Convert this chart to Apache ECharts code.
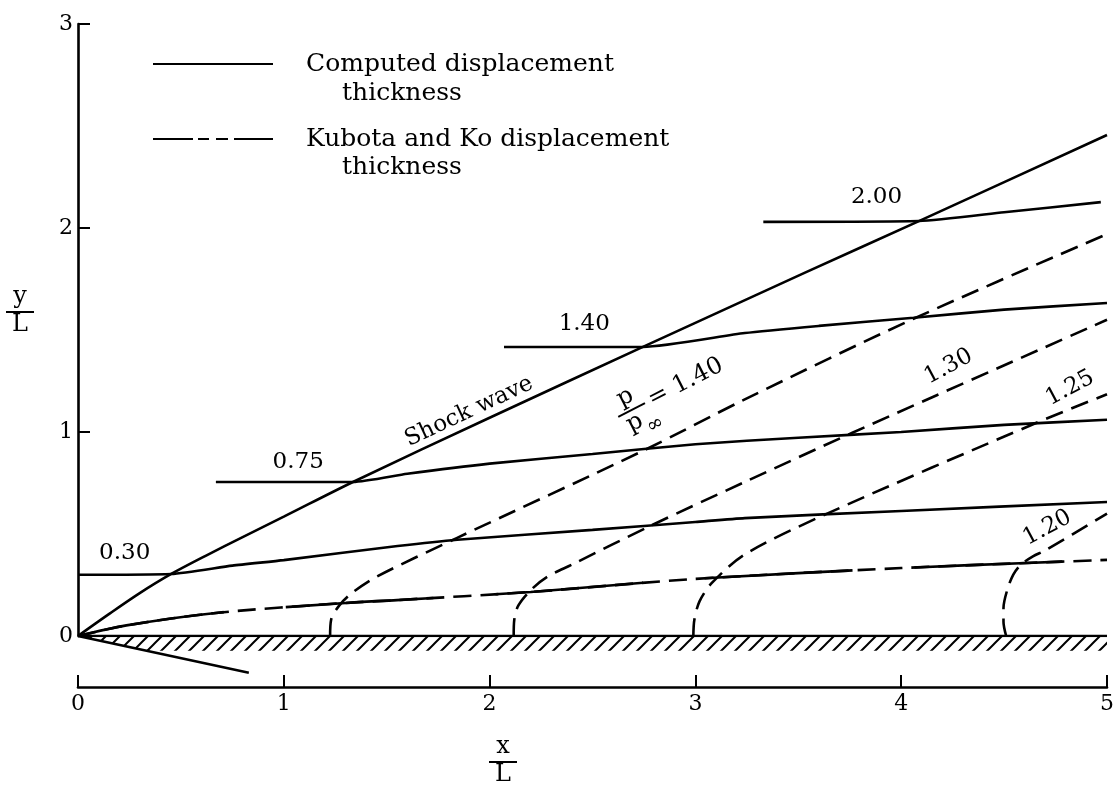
<!DOCTYPE html>
<html>
<head>
<meta charset="utf-8">
<title>Pressure field ahead of a wedge</title>
<script src="https://cdn.jsdelivr.net/npm/echarts/dist/echarts.min.js"></script>
<style>
  html, body { margin: 0; padding: 0; background: #fff; }
  #main { width: 1117px; height: 786px; }
</style>
</head>
<body>
<div id="main"></div>
<script>
// ---- values (x/L, y/L) ----
const X_TICKS = [0, 1, 2, 3, 4, 5];
const Y_TICKS = [0, 1, 2, 3];

const shockWave = [[0, 0], [0.15, 0.107], [0.3, 0.21], [0.453, 0.304], [0.62, 0.393], [0.8, 0.485], [1.0, 0.585],
  [1.336, 0.755], [2.0, 1.07], [2.745, 1.417], [3.53, 1.78], [4.086, 2.034], [5.0, 2.456]];

// computed isobars
const isobar030 = [[0, 0.30], [0.453, 0.304], [0.75, 0.345], [1.0, 0.372], [1.553, 0.441], [1.843, 0.472],
  [2.5, 0.52], [3.0, 0.559], [3.24, 0.578], [4.0, 0.613], [5.0, 0.657]];
const isobar075 = [[0.67, 0.755], [1.336, 0.755], [1.6, 0.795], [2.0, 0.845], [2.5, 0.892], [3.0, 0.94],
  [3.5, 0.972], [4.0, 1.0], [4.5, 1.035], [5.0, 1.06]];
const isobar140 = [[2.07, 1.417], [2.745, 1.417], [3.24, 1.485], [3.6, 1.52], [4.06, 1.56], [4.5, 1.60], [5.0, 1.632]];
const isobar200 = [[3.33, 2.03], [4.086, 2.034], [4.5, 2.077], [4.97, 2.127]];

// Kubota and Ko isobars
const kubota140 = [[1.225, 0], [1.23, 0.08], [1.27, 0.15], [1.33, 0.21], [1.45, 0.29], [1.84, 0.48],
  [2.75, 0.91], [3.24, 1.16], [4.06, 1.555], [5.0, 1.97]];
const kubota130 = [[2.117, 0], [2.12, 0.08], [2.14, 0.15], [2.2, 0.225], [2.28, 0.29], [2.4, 0.35],
  [2.79, 0.544], [3.24, 0.755], [3.76, 0.995], [5.0, 1.55]];
const kubota125 = [[2.99, 0], [2.995, 0.08], [3.02, 0.17], [3.08, 0.26], [3.24, 0.40], [3.64, 0.60],
  [4.655, 1.044], [5.0, 1.185]];
const kubota120 = [[4.51, 0], [4.497, 0.07], [4.497, 0.137], [4.515, 0.225], [4.544, 0.30], [4.58, 0.348],
  [4.64, 0.39], [4.70, 0.42], [5.0, 0.60]];

// displacement thickness (both methods coincide)
const displacementThickness = [[0, 0], [0.235, 0.052], [0.67, 0.113], [1.3, 0.162], [1.55, 0.176],
  [2.2, 0.216], [3.0, 0.28], [4.0, 0.333], [4.61, 0.358], [5.0, 0.373]];

// body: flat plate surface, wedge lower face, hatched wall band
const plateSurface = [[0, 0], [5, 0]];
const wedgeFace = [[0, 0], [0.83, -0.18]];
const wallBand = [[0, 0], [5, 0], [5, -0.072], [0.33, -0.072]];

// curve annotations: [text, x/L, y/L]
const isobarTags = [['0.30', 0.227, 0.407], ['0.75', 1.07, 0.853], ['1.40', 2.46, 1.53], ['2.00', 3.88, 2.15]];
const kubotaTags = [['1.30', 4.23, 1.32], ['1.25', 4.82, 1.215], ['1.20', 4.71, 0.53]];
const shockTag = ['Shock wave', 1.90, 1.10];
const ratioTag = ['1.40', 2.69, 1.108];

const LEGEND_NAMES = ['Computed displacement thickness', 'Kubota and Ko displacement thickness'];

// ---- styling ----
const FONT = '"DejaVu Serif", "Liberation Serif", serif';
const INK = '#000';
const LW = 2.6;
const DASH = [18, 9];
const kubotaAngle = 28;
const shockAngle = 25;

function hatchTile() {
  const c = document.createElement('canvas');
  c.width = 14; c.height = 14;
  const g = c.getContext('2d');
  g.strokeStyle = INK; g.lineWidth = 2;
  g.beginPath();
  g.moveTo(-2, 16); g.lineTo(16, -2);
  g.moveTo(-2, 2); g.lineTo(2, -2);
  g.moveTo(12, 16); g.lineTo(16, 12);
  g.stroke();
  return c;
}
const hatch = hatchTile();

function solid(name, data, extra) {
  return Object.assign({
    type: 'line', name, data, symbol: 'none', smooth: 0.2, silent: true,
    itemStyle: { color: INK },
    lineStyle: { color: INK, width: LW, type: 'solid' }, z: 3
  }, extra || {});
}
function dashed(name, data) {
  return {
    type: 'line', name, data, symbol: 'none', smooth: 0.3, silent: true,
    itemStyle: { color: INK },
    lineStyle: { color: INK, width: LW, type: DASH }, z: 3
  };
}
function tagSeries(name, tags, angle, size) {
  return {
    type: 'scatter', name, silent: true, symbolSize: 1,
    itemStyle: { color: 'rgba(0,0,0,0)', opacity: 1 },
    label: { show: true, position: 'inside', color: INK, opacity: 1, fontFamily: FONT, fontSize: size, rotate: angle },
    data: tags.map(t => ({ value: [t[1], t[2]], label: { formatter: t[0] } })),
    z: 5
  };
}

const chart = echarts.init(document.getElementById('main'), null, { renderer: 'canvas' });

chart.setOption({
  animation: false,
  backgroundColor: '#fff',
  grid: { left: 78, right: 2, top: 24, bottom: 150, containLabel: false },
  xAxis: {
    type: 'value', min: X_TICKS[0], max: X_TICKS[X_TICKS.length - 1], interval: 1, offset: 51,
    axisLine: { show: true, onZero: false, lineStyle: { color: INK, width: LW } },
    axisTick: { show: true, inside: true, length: 12, lineStyle: { color: INK, width: 2 } },
    axisLabel: { color: INK, fontFamily: FONT, fontSize: 22, margin: 6 },
    splitLine: { show: false }
  },
  yAxis: {
    type: 'value', min: Y_TICKS[0], max: Y_TICKS[Y_TICKS.length - 1], interval: 1,
    axisLine: { show: true, onZero: false, lineStyle: { color: INK, width: LW } },
    axisTick: { show: true, inside: true, length: 12, lineStyle: { color: INK, width: 2 } },
    axisLabel: { color: INK, fontFamily: FONT, fontSize: 22, margin: 5 },
    splitLine: { show: false }
  },
  legend: {
    orient: 'vertical', left: 152, top: 49, padding: 0,
    itemWidth: 120, itemHeight: 10, itemGap: 45, selectedMode: false,
    itemStyle: { color: 'rgba(0,0,0,0)', borderColor: 'rgba(0,0,0,0)', borderWidth: 0 },
    textStyle: { color: INK, fontFamily: FONT, fontSize: 25, lineHeight: 30, padding: [0, 0, 0, 28] },
    formatter: name => name.replace(/ thickness$/, ''),
    data: [
      { name: LEGEND_NAMES[0], lineStyle: { type: 'solid', dashOffset: 0 } },
      { name: LEGEND_NAMES[1], lineStyle: { type: [40, 5, 11, 7, 12, 6, 40] } }
    ]
  },
  series: [
    {
      type: 'custom', name: 'wall', silent: true, z: 1, data: [0],
      renderItem: (params, api) => ({
        type: 'polygon',
        shape: { points: wallBand.map(p => api.coord(p)) },
        style: { fill: { image: hatch, repeat: 'repeat' }, stroke: null }
      })
    },
    solid('plate', plateSurface, { smooth: false, z: 4 }),
    solid('wedge', wedgeFace, { smooth: false, clip: false }),
    solid('Shock wave', shockWave, { smooth: 0.3 }),
    solid('p/p∞ 0.30', isobar030),
    solid('p/p∞ 0.75', isobar075),
    solid('p/p∞ 1.40', isobar140),
    solid('p/p∞ 2.00', isobar200),
    dashed('Kubota p/p∞ 1.40', kubota140),
    dashed('Kubota p/p∞ 1.30', kubota130),
    dashed('Kubota p/p∞ 1.25', kubota125),
    dashed('Kubota p/p∞ 1.20', kubota120),
    dashed(LEGEND_NAMES[1], displacementThickness),
    solid(LEGEND_NAMES[0], displacementThickness, {
      smooth: 0.3, z: 4,
      lineStyle: { color: INK, width: LW, type: [148, 62], dashOffset: 0 }
    }),
    tagSeries('isobar values', isobarTags, 0, 23),
    tagSeries('Kubota values', kubotaTags, kubotaAngle, 23),
    tagSeries('shock', [shockTag], shockAngle, 23)
  ]
});

// stacked-fraction labels and legend continuation lines
function fraction(cx, top, num, den, rotation) {
  return {
    type: 'group', x: cx, y: top, rotation: rotation || 0, silent: true,
    children: [
      { type: 'text', x: 0, y: -3, style: { text: num, fill: INK, font: '24px ' + FONT, align: 'center', verticalAlign: 'bottom' } },
      { type: 'line', shape: { x1: -14, y1: 0, x2: 14, y2: 0 }, style: { stroke: INK, lineWidth: 2 } },
      { type: 'text', x: 0, y: 1, style: { text: den, fill: INK, font: '24px ' + FONT, align: 'center', verticalAlign: 'top' } }
    ]
  };
}

const anchor = chart.convertToPixel({ gridIndex: 0 }, [ratioTag[1], ratioTag[2]]);
const ratioRot = 27 * Math.PI / 180;

chart.setOption({
  graphic: [
    { type: 'text', x: 342, y: 93, silent: true, style: { text: 'thickness', fill: INK, font: '25px ' + FONT, verticalAlign: 'middle' } },
    { type: 'text', x: 342, y: 167, silent: true, style: { text: 'thickness', fill: INK, font: '25px ' + FONT, verticalAlign: 'middle' } },
    fraction(503, 762, 'x', 'L'),
    fraction(20, 312, 'y', 'L'),
    {
      type: 'group', x: anchor[0], y: anchor[1], rotation: ratioRot, silent: true,
      children: [
        { type: 'text', x: 0, y: -2, style: { text: 'p', fill: INK, font: '24px ' + FONT, align: 'center', verticalAlign: 'bottom' } },
        { type: 'line', shape: { x1: -15, y1: 0, x2: 15, y2: 0 }, style: { stroke: INK, lineWidth: 2 } },
        { type: 'text', x: -3, y: 1, style: { text: 'p', fill: INK, font: '24px ' + FONT, align: 'center', verticalAlign: 'top' } },
        { type: 'text', x: 6, y: 14, style: { text: '∞', fill: INK, font: '20px ' + FONT, align: 'left', verticalAlign: 'top' } },
        { type: 'text', x: 20, y: 0, style: { text: '= ' + ratioTag[0], fill: INK, font: '24px ' + FONT, align: 'left', verticalAlign: 'middle' } }
      ]
    }
  ]
});
</script>
</body>
</html>
